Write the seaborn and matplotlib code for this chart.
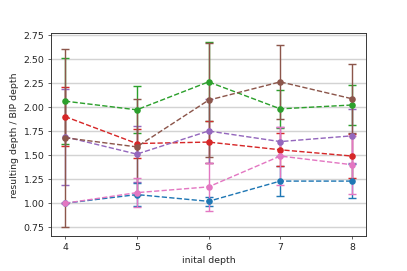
import matplotlib
matplotlib.use("Agg")
import matplotlib.pyplot as plt
import seaborn as sns
import pandas as pd
import numpy as np

depths = [4, 5, 6, 7, 8]
series_names = ["blue", "green", "red", "purple", "brown", "pink"]
colors = ["#1f77b4", "#2ca02c", "#d62728", "#9467bd", "#8c564b", "#e377c2"]

blue_mean = [1.00, 1.09, 1.02, 1.23, 1.23]
blue_err = [0.0, 0.12, 0.05, 0.155, 0.18]
green_mean = [2.06, 1.97, 2.26, 1.98, 2.02]
green_err = [0.45, 0.245, 0.41, 0.195, 0.21]
red_mean = [1.90, 1.62, 1.635, 1.555, 1.49]
red_err = [0.31, 0.15, 0.22, 0.17, 0.23]
purple_mean = [1.69, 1.51, 1.75, 1.64, 1.70]
purple_err = [0.50, 0.29, 0.33, 0.15, 0.28]
brown_mean = [1.68, 1.585, 2.07, 2.26, 2.085]
brown_err = [0.925, 0.50, 0.595, 0.385, 0.357]
pink_mean = [1.00, 1.11, 1.17, 1.49, 1.40]
pink_err = [0.0, 0.15, 0.25, 0.30, 0.30]

means = [blue_mean, green_mean, red_mean, purple_mean, brown_mean, pink_mean]
errs = [blue_err, green_err, red_err, purple_err, brown_err, pink_err]

rows = []
for name, m, e in zip(series_names, means, errs):
    for d, mv, ev in zip(depths, m, e):
        rows.append({"depth": d, "series": name, "mean": mv, "err": ev})
df = pd.DataFrame(rows)

sns.set_style("white")
plt.rcParams["font.family"] = ["DejaVu Sans"]

fig, ax = plt.subplots(figsize=(6, 4), dpi=407 / 6)
fig.subplots_adjust(left=0.1246, right=0.9, top=0.877, bottom=0.129)

ax.grid(axis="y", color="#d3d3d3", linewidth=1.5, zorder=0)
ax.set_axisbelow(True)

for name, col in zip(series_names, colors):
    sub = df[df["series"] == name]
    ax.errorbar(sub["depth"], sub["mean"], yerr=sub["err"], fmt="none",
                ecolor=col, elinewidth=1.5, capsize=4.5, capthick=1.5, zorder=2)
    sns.lineplot(data=sub, x="depth", y="mean", color=col, marker="o",
                 markersize=7, markeredgewidth=0, linestyle="--", linewidth=1.5,
                 ax=ax, errorbar=None, zorder=3)

ax.set_xticks(depths)
ax.set_yticks(np.arange(0.75, 2.76, 0.25))
ax.yaxis.set_major_formatter(matplotlib.ticker.FormatStrFormatter("%.2f"))
ax.set_ylim(0.66, 2.767)
ax.set_xlim(3.8, 8.2)
ax.set_xlabel("inital depth")
ax.set_ylabel("resulting depth / BIP depth")
ax.tick_params(axis="both", which="both", length=3.5, width=0.8, color="#333333",
               bottom=True, left=True, labelsize=10)
for s in ax.spines.values():
    s.set_color("#333333")
    s.set_linewidth(1.0)
if ax.get_legend() is not None:
    ax.get_legend().remove()

fig.savefig("out.png", dpi=407 / 6)
